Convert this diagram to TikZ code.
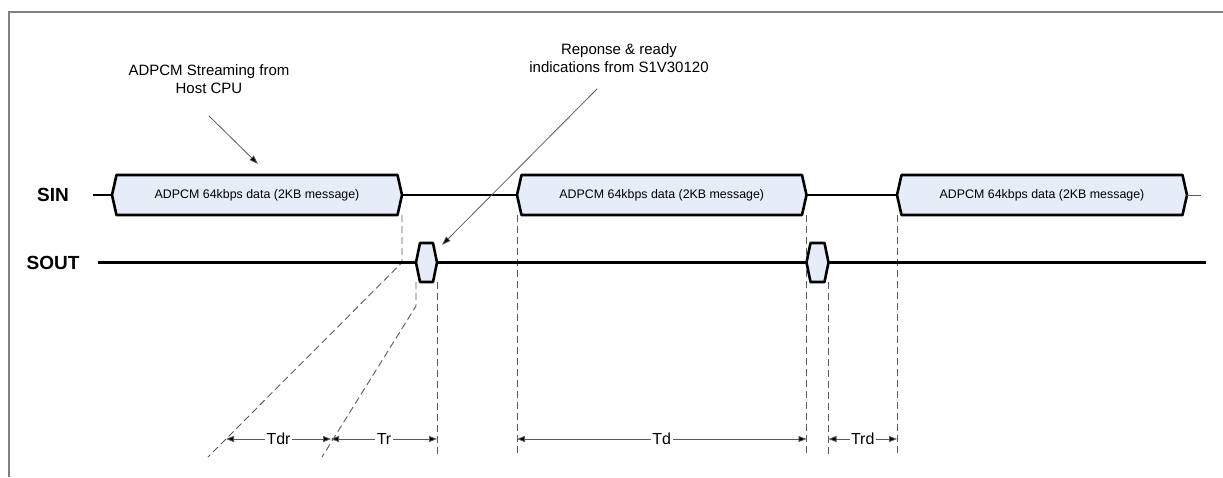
\documentclass[tikz,border=0pt]{standalone}
\usepackage{fontspec}
\setmainfont{Liberation Sans}
\usetikzlibrary{arrows.meta}
\definecolor{boxfill}{RGB}{230,236,248}
\definecolor{framegray}{RGB}{128,128,128}
\definecolor{dashgray}{RGB}{90,90,90}
\tikzset{
  sigline/.style={line width=2.6pt, black},
  soutline/.style={line width=3pt, black},
  boxline/.style={line width=2.6pt, black, line join=round, fill=boxfill},
  boxtext/.style={font=\fontsize{12.4}{14}\selectfont, inner sep=0pt},
  siglabel/.style={font=\fontsize{19}{22}\selectfont\bfseries, inner sep=0pt},
  guide/.style={dashgray, line width=0.9pt, dash pattern=on 7pt off 4pt},
  dimarrow/.style={line width=0.8pt, dashgray, {Triangle[length=8pt,width=6pt,fill=black]}-{Triangle[length=8pt,width=6pt,fill=black]}},
  dimlabel/.style={font=\fontsize{16}{18}\selectfont, fill=white, inner sep=1.5pt, text=black},
  note/.style={font=\fontsize{15}{18.5}\selectfont, align=center, inner sep=0pt},
  pointer/.style={line width=0.8pt, dashgray, -{Triangle[length=9pt,width=6pt,fill=black]}},
}
\newcommand\busbox[4]{% name, left x, right x, label
  \coordinate (#1-l) at (#2,195);
  \coordinate (#1-r) at (#3,195);
  \draw[boxline] (#2,195) -- (#2+4.5,175) -- (#3-4.5,175) -- (#3,195) -- (#3-4.5,215) -- (#2+4.5,215) -- cycle;
  \node[boxtext] (#1) at ({(#2+#3)/2},195) {#4};
}
\newcommand\acknode[3]{% name, left x, right x
  \coordinate (#1-l) at (#2,262.5);
  \coordinate (#1-r) at (#3,262.5);
  \draw[boxline] (#2,262.5) -- (#2+4,243) -- (#3-4,243) -- (#3,262.5) -- (#3-4,282) -- (#2+4,282) -- cycle;
}
\begin{document}
\begin{tikzpicture}[x=1pt,y=-1pt]
\useasboundingbox (0,0) rectangle (1223,477);
% frame
\draw[framegray, line width=1.5pt] (9,477) -- (9,12) -- (1223,12);

% guides (behind)
\coordinate (g1a) at (402,262.5);
\coordinate (g1b) at (208,457);
\coordinate (g2a) at (416,306);
\coordinate (g2b) at (322,457);
\coordinate (g3b) at (437,457);
\coordinate (g4b) at (517,457);
\coordinate (g5b) at (806.5,457);
\coordinate (g6b) at (828.5,457);
\coordinate (g7b) at (897,457);
\draw[guide] (402,215) -- (g1a) -- (g1b);
\draw[guide] (416,282) -- (g2a) -- (g2b);
\draw[guide] (437,282) -- (g3b);
\draw[guide] (517,215) -- (g4b);
\draw[guide] (806.5,215) -- (g5b);
\draw[guide] (828.5,282) -- (g6b);
\draw[guide] (897,215) -- (g7b);

% labels
\node[siglabel] (sin) at (53,195) {SIN};
\node[siglabel] (sout) at (53,262.5) {SOUT};
\coordinate (sinstart) at (93,195);
\coordinate (sinend) at (1201,195);
\coordinate (soutstart) at (98,262.5);
\coordinate (soutend) at (1206,262.5);

% SIN bus
\busbox{b1}{112}{402}{ADPCM 64kbps data (2KB message)}
\busbox{b2}{517}{806.5}{ADPCM 64kbps data (2KB message)}
\busbox{b3}{897}{1187}{ADPCM 64kbps data (2KB message)}
\draw[sigline] (sinstart) -- (b1-l);
\draw[sigline] (b1-r) -- (b2-l);
\draw[sigline] (b2-r) -- (b3-l);
\draw[line width=1pt, dashgray] (b3-r) -- (sinend);

% SOUT bus
\acknode{h1}{416}{437}
\acknode{h2}{806.5}{828.5}
\draw[soutline] (soutstart) -- (h1-l);
\draw[soutline] (h1-r) -- (h2-l);
\draw[soutline] (h2-r) -- (soutend);

% dimensions
\coordinate (d1) at (226,439);
\coordinate (d2) at (331,439);
\coordinate (d3) at (437,439);
\coordinate (d4) at (517,439);
\coordinate (d5) at (806.5,439);
\coordinate (d6) at (828.5,439);
\coordinate (d7) at (897,439);
\draw[dimarrow] (d1) -- node[dimlabel] (tdr) {Tdr} (d2);
\draw[dimarrow] (d2) -- node[dimlabel] (tr) {Tr} (d3);
\draw[dimarrow] (d4) -- node[dimlabel] (td) {Td} (d5);
\draw[dimarrow] (d6) -- node[dimlabel] (trd) {Trd} (d7);

% notes
\node[note] (n1) at (209,79) {ADPCM Streaming from\\Host CPU};
\coordinate (n1a) at (209,116);
\coordinate (n1b) at (258,164);
\draw[pointer] (n1a) -- (n1b);
\node[note] (n2) at (619,58) {Reponse \& ready\\indications from S1V30120};
\coordinate (n2a) at (597,89);
\coordinate (n2b) at (442,245);
\draw[pointer] (n2a) -- (n2b);
\end{tikzpicture}
\end{document}
